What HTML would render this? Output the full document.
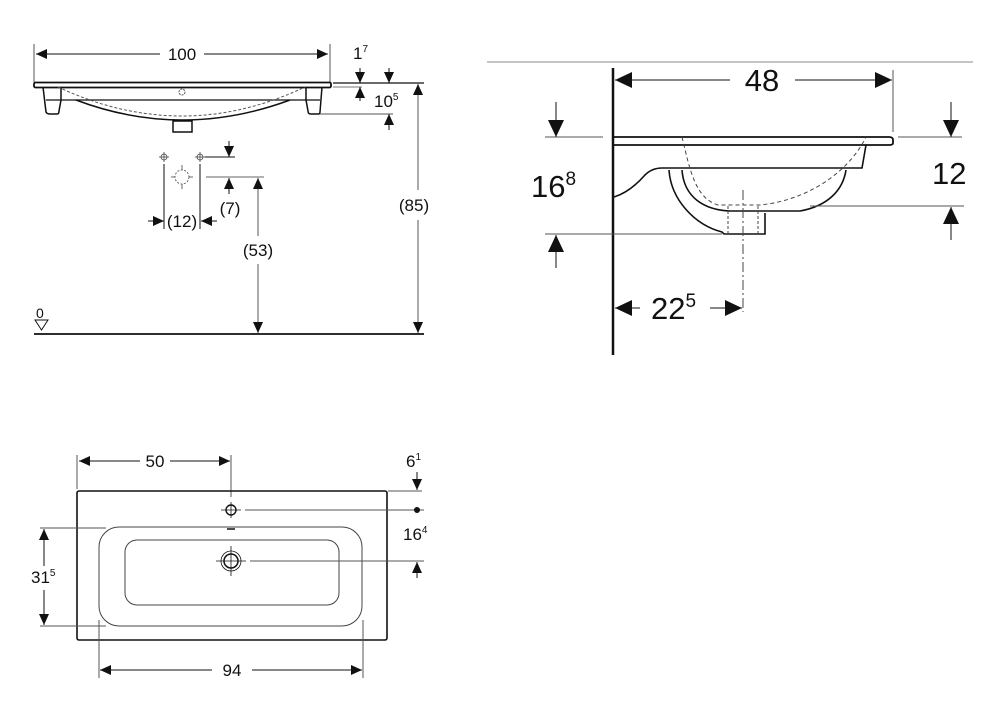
<!DOCTYPE html>
<html><head><meta charset="utf-8"><style>
html,body{margin:0;padding:0;background:#fff;}
svg{display:block;}
text{font-family:"Liberation Sans",Arial,sans-serif;fill:#111;}
</style></head><body>
<svg width="996" height="705" viewBox="0 0 996 705" xmlns="http://www.w3.org/2000/svg">
<defs>
<marker id="a" markerUnits="userSpaceOnUse" markerWidth="12" markerHeight="10" refX="11" refY="5" orient="auto"><path d="M0,0L11,5L0,10z" fill="#111"/></marker>
<marker id="b" markerUnits="userSpaceOnUse" markerWidth="18" markerHeight="16" refX="17" refY="8" orient="auto"><path d="M0,0L17,8L0,16z" fill="#111"/></marker>
</defs>
<g stroke="#111" fill="none" stroke-width="1">
<line x1="34" y1="44" x2="34" y2="82" stroke="#555"/>
<line x1="330" y1="44" x2="330" y2="82" stroke="#555"/>
<line x1="160" y1="54" x2="36" y2="54" marker-end="url(#a)"/>
<line x1="204" y1="54" x2="328" y2="54" marker-end="url(#a)"/>
<rect x="34" y="82.5" width="297" height="5" rx="1.5" stroke-width="1.8"/>
<path d="M43,87 L46,112 Q47,114 50,114 L57,114 Q59,114 59,111 L61,100 L61,87" stroke-width="1.5"/>
<path d="M306,87 L306,100 L308,111 Q308,114 311,114 L318,114 Q320,114 320,112 L322,87" stroke-width="1.5"/>
<line x1="46" y1="100" x2="320" y2="100" stroke-width="1.3"/>
<path d="M76,100 Q182,140 290,100" stroke-width="1.5"/>
<path d="M58,87 Q182,145 305,87" stroke-dasharray="3,2" stroke="#555"/>
<rect x="173" y="121" width="19" height="11" stroke-width="1.5"/>
<circle cx="182" cy="92" r="3" stroke-dasharray="2,1" stroke="#555"/>
<line x1="333" y1="83" x2="424" y2="83" stroke-width="1.3"/>
<line x1="333" y1="87" x2="362" y2="87" stroke="#777"/>
<line x1="320" y1="114" x2="393" y2="114" stroke="#555"/>
<line x1="360" y1="68" x2="360" y2="83" marker-end="url(#a)"/>
<line x1="389" y1="68" x2="389" y2="83" marker-end="url(#a)"/>
<line x1="360" y1="101" x2="360" y2="87" marker-end="url(#a)"/>
<line x1="389" y1="130" x2="389" y2="114" marker-end="url(#a)"/>
<line x1="418" y1="190" x2="418" y2="84" marker-end="url(#a)" stroke="#555"/>
<line x1="418" y1="220" x2="418" y2="333" marker-end="url(#a)" stroke="#555"/>
<line x1="34" y1="334" x2="424" y2="334" stroke-width="1.8"/>
<path d="M35,320 L48,320 L41.5,330z"/>
<g stroke="#444" stroke-width="0.8">
<circle cx="164" cy="157" r="3"/><line x1="159" y1="157" x2="169" y2="157"/><line x1="164" y1="152" x2="164" y2="162"/>
<circle cx="200" cy="157" r="3"/><line x1="195" y1="157" x2="205" y2="157"/><line x1="200" y1="152" x2="200" y2="162"/>
<circle cx="182" cy="177" r="7" stroke-dasharray="2,1.5"/>
<line x1="171" y1="177" x2="175" y2="177"/><line x1="189" y1="177" x2="193" y2="177"/>
<line x1="182" y1="165" x2="182" y2="170"/><line x1="182" y1="184" x2="182" y2="189"/>
</g>
<line x1="164" y1="164" x2="164" y2="229"/>
<line x1="200" y1="164" x2="200" y2="229"/>
<line x1="148" y1="221" x2="164" y2="221" marker-end="url(#a)"/>
<line x1="217" y1="221" x2="201" y2="221" marker-end="url(#a)"/>
<line x1="205" y1="157" x2="235" y2="157"/>
<line x1="229" y1="141" x2="229" y2="157" marker-end="url(#a)"/>
<line x1="206" y1="177" x2="264" y2="177" stroke="#666"/>
<line x1="229" y1="194" x2="229" y2="178" marker-end="url(#a)"/>
<line x1="258" y1="236" x2="258" y2="178" marker-end="url(#a)" stroke="#555"/>
<line x1="258" y1="264" x2="258" y2="333" marker-end="url(#a)" stroke="#555"/>

<line x1="487" y1="62" x2="973" y2="62" stroke="#888"/>
<line x1="613" y1="68" x2="613" y2="355" stroke-width="2.5"/>
<line x1="893" y1="70" x2="893" y2="132" stroke="#555"/>
<line x1="730" y1="80" x2="615" y2="80" marker-end="url(#b)"/>
<line x1="795" y1="80" x2="892" y2="80" marker-end="url(#b)"/>
<path d="M614,137 L889,137 Q893,137 893,140 L893,143 Q893,145 889,145 L614,145" stroke-width="1.8"/>
<path d="M866,145 L862,168 L662,168 Q652,168 645,175 Q630,192 614,197" stroke-width="1.6"/>
<path d="M669,170 C671,200 695,225 722,232 L724,234 L765,234 L765,213" stroke-width="1.6"/>
<path d="M682,170 C684,198 705,210 730,211 L800,211 C828,206 843,190 846,170" stroke-width="1.6"/>
<path d="M682,137 C690,170 695,198 718,205 L760,205 C810,200 850,170 866,137" stroke-dasharray="4,3" stroke="#444"/>
<line x1="728" y1="206" x2="728" y2="234" stroke-dasharray="3,2" stroke="#444"/>
<line x1="758" y1="206" x2="758" y2="234" stroke-dasharray="3,2" stroke="#444"/>
<line x1="743" y1="190" x2="743" y2="312" stroke-dasharray="10,3,2,3" stroke="#444"/>
<line x1="545" y1="137" x2="603" y2="137" stroke="#555"/>
<line x1="545" y1="234" x2="722" y2="234" stroke="#555"/>
<line x1="556" y1="102" x2="556" y2="137" marker-end="url(#b)"/>
<line x1="556" y1="268" x2="556" y2="235" marker-end="url(#b)"/>
<line x1="898" y1="137" x2="962" y2="137" stroke="#555"/>
<line x1="810" y1="206" x2="964" y2="206" stroke="#555"/>
<line x1="951" y1="102" x2="951" y2="137" marker-end="url(#b)"/>
<line x1="951" y1="240" x2="951" y2="207" marker-end="url(#b)"/>
<line x1="640" y1="308" x2="615" y2="308" marker-end="url(#b)"/>
<line x1="710" y1="308" x2="742" y2="308" marker-end="url(#b)"/>

<line x1="77" y1="455" x2="77" y2="489" stroke="#555"/>
<line x1="231" y1="455" x2="231" y2="497" stroke="#555"/>
<line x1="140" y1="461" x2="79" y2="461" marker-end="url(#a)"/>
<line x1="170" y1="461" x2="230" y2="461" marker-end="url(#a)"/>
<rect x="77" y="491" width="310" height="149" rx="2" stroke-width="1.6"/>
<rect x="99" y="527" width="263" height="99" rx="20" stroke="#444"/>
<rect x="125" y="540" width="214" height="65" rx="12" stroke="#444"/>
<circle cx="231" cy="510" r="5" stroke-width="1.4"/>
<line x1="221" y1="510" x2="241" y2="510" stroke-width="0.8"/><line x1="231" y1="502" x2="231" y2="518" stroke-width="0.8"/>
<line x1="227" y1="529" x2="235" y2="529" stroke-width="1.5"/>
<circle cx="231" cy="561" r="10" stroke-width="0.8"/>
<circle cx="231" cy="561" r="7" stroke-width="1.5"/>
<line x1="216" y1="561" x2="246" y2="561" stroke-width="0.8"/><line x1="231" y1="546" x2="231" y2="576" stroke-width="0.8"/>
<line x1="388" y1="491" x2="422" y2="491" stroke="#555"/>
<line x1="417" y1="472" x2="417" y2="490" marker-end="url(#a)"/>
<line x1="245" y1="510" x2="424" y2="510" stroke="#555"/>
<circle cx="417" cy="510" r="2.5" fill="#111"/>
<line x1="250" y1="561" x2="424" y2="561" stroke="#555"/>
<line x1="417" y1="578" x2="417" y2="562" marker-end="url(#a)"/>
<line x1="40" y1="528" x2="106" y2="528" stroke="#555"/>
<line x1="40" y1="626" x2="106" y2="626" stroke="#555"/>
<line x1="44" y1="566" x2="44" y2="529" marker-end="url(#a)"/>
<line x1="44" y1="590" x2="44" y2="625" marker-end="url(#a)"/>
<line x1="99" y1="620" x2="99" y2="678" stroke="#555"/>
<line x1="363" y1="620" x2="363" y2="678" stroke="#555"/>
<line x1="212" y1="670" x2="100" y2="670" marker-end="url(#a)"/>
<line x1="252" y1="670" x2="362" y2="670" marker-end="url(#a)"/>
</g>
<g font-size="17">
<text x="182" y="60" text-anchor="middle">100</text>
<text x="353" y="59">1<tspan font-size="10" dy="-7">7</tspan></text>
<text x="374" y="107">10<tspan font-size="10" dy="-7">5</tspan></text>
<text x="414" y="211" text-anchor="middle">(85)</text>
<text x="36" y="318" font-size="14">0</text>
<text x="182" y="227" text-anchor="middle">(12)</text>
<text x="230" y="214" text-anchor="middle">(7)</text>
<text x="258" y="256" text-anchor="middle">(53)</text>
<text x="155" y="467" text-anchor="middle">50</text>
<text x="406" y="467">6<tspan font-size="10" dy="-7">1</tspan></text>
<text x="403" y="540">16<tspan font-size="10" dy="-7">4</tspan></text>
<text x="31" y="583">31<tspan font-size="10" dy="-7">5</tspan></text>
<text x="232" y="676" text-anchor="middle">94</text>
</g>
<g font-size="31">
<text x="762" y="91" text-anchor="middle">48</text>
<text x="531" y="197">16<tspan font-size="19" dy="-12">8</tspan></text>
<text x="932" y="184">12</text>
<text x="651" y="319">22<tspan font-size="19" dy="-12">5</tspan></text>
</g>
</svg>
</body></html>
